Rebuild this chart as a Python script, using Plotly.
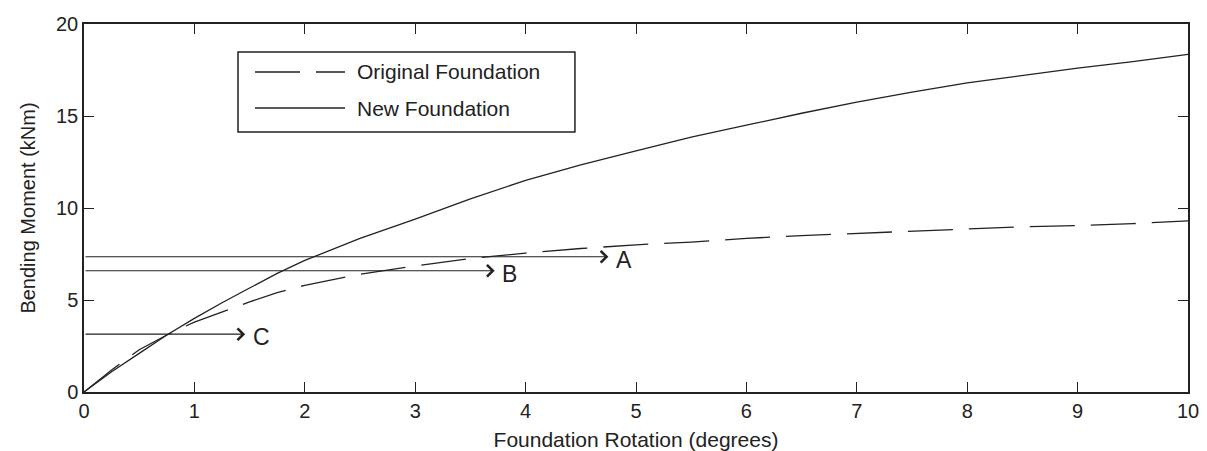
import plotly.graph_objects as go

# Data
rotation = [0, 0.25, 0.5, 0.75, 1, 1.25, 1.5, 1.75, 2, 2.5, 3, 3.5, 4, 4.5, 5,
            5.5, 6, 6.5, 7, 7.5, 8, 8.5, 9, 9.5, 10]
new_foundation = [0, 1.1, 2.1, 3.1, 4.0, 4.85, 5.65, 6.45, 7.15, 8.35, 9.4, 10.5, 11.5,
                  12.35, 13.1, 13.85, 14.5, 15.15, 15.75, 16.3, 16.8, 17.2, 17.6, 17.95, 18.35]
original_foundation = [0, 1.2, 2.3, 3.1, 3.8, 4.35, 4.9, 5.4, 5.8, 6.4, 6.85, 7.25, 7.55,
                       7.8, 8.0, 8.15, 8.35, 8.5, 8.62, 8.75, 8.88, 8.98, 9.05, 9.15, 9.3]

arrow_labels = ["A", "B", "C"]
arrow_levels = [7.35, 6.59, 3.14]
arrow_tips = [4.75, 3.72, 1.46]

x_ticks = list(range(0, 11))
y_ticks = [0, 5, 10, 15, 20]

FONT = "Liberation Sans, Arial, sans-serif"
INK = "#222222"

fig = go.Figure()
fig.add_trace(go.Scatter(x=rotation, y=original_foundation, mode="lines",
                         name="Original Foundation",
                         line=dict(color=INK, width=1.3, dash="45px,16px"),
                         showlegend=False))
fig.add_trace(go.Scatter(x=rotation, y=new_foundation, mode="lines",
                         name="New Foundation",
                         line=dict(color=INK, width=1.3),
                         showlegend=False))

# Arrows A, B, C
for lab, lvl, tip in zip(arrow_labels, arrow_levels, arrow_tips):
    fig.add_annotation(x=tip, y=lvl, ax=0, ay=lvl, xref="x", yref="y",
                       axref="x", ayref="y", text="", showarrow=True,
                       arrowhead=4, arrowsize=1.9, arrowwidth=1.2, arrowcolor=INK)
    fig.add_annotation(x=tip + 0.05, y=lvl - 0.15, xref="x", yref="y", text=lab,
                       showarrow=False, xanchor="left", yanchor="middle",
                       font=dict(family=FONT, size=23, color=INK))

# Manual legend box
fig.add_shape(type="rect", xref="paper", yref="paper", x0=0.1395, x1=0.4447,
              y0=0.7065, y1=0.9239, line=dict(color=INK, width=1.5),
              fillcolor="white")
legend_rows = [("Original Foundation", 0.8696, "45px,16px"),
               ("New Foundation", 0.7717, "solid")]
for name, yy, dash in legend_rows:
    fig.add_shape(type="line", xref="paper", yref="paper", x0=0.1549, x1=0.2364,
                  y0=yy, y1=yy, line=dict(color=INK, width=1.3, dash=dash))
    fig.add_annotation(x=0.2455, y=yy, xref="paper", yref="paper", text=name,
                       showarrow=False, xanchor="left", yanchor="middle",
                       font=dict(family=FONT, size=21, color=INK))

axis_common = dict(showline=True, linecolor=INK, linewidth=1.5, mirror="ticks",
                   ticks="inside", ticklen=10, tickwidth=1.3, tickcolor=INK,
                   showgrid=False, zeroline=False, automargin=False,
                   tickfont=dict(family=FONT, size=20, color=INK))

fig.update_layout(
    width=1207, height=451,
    margin=dict(l=84, r=19, t=24, b=59),
    paper_bgcolor="white", plot_bgcolor="white",
    xaxis=dict(range=[0, 10], tickvals=x_ticks,
               title=dict(text="Foundation Rotation (degrees)",
                          font=dict(family=FONT, size=21, color=INK)),
               **axis_common),
    yaxis=dict(range=[0, 20], tickvals=y_ticks,
               title=dict(text="Bending Moment (kNm)",
                          font=dict(family=FONT, size=20, color=INK)),
               **axis_common),
)

fig.write_html("out.html")
